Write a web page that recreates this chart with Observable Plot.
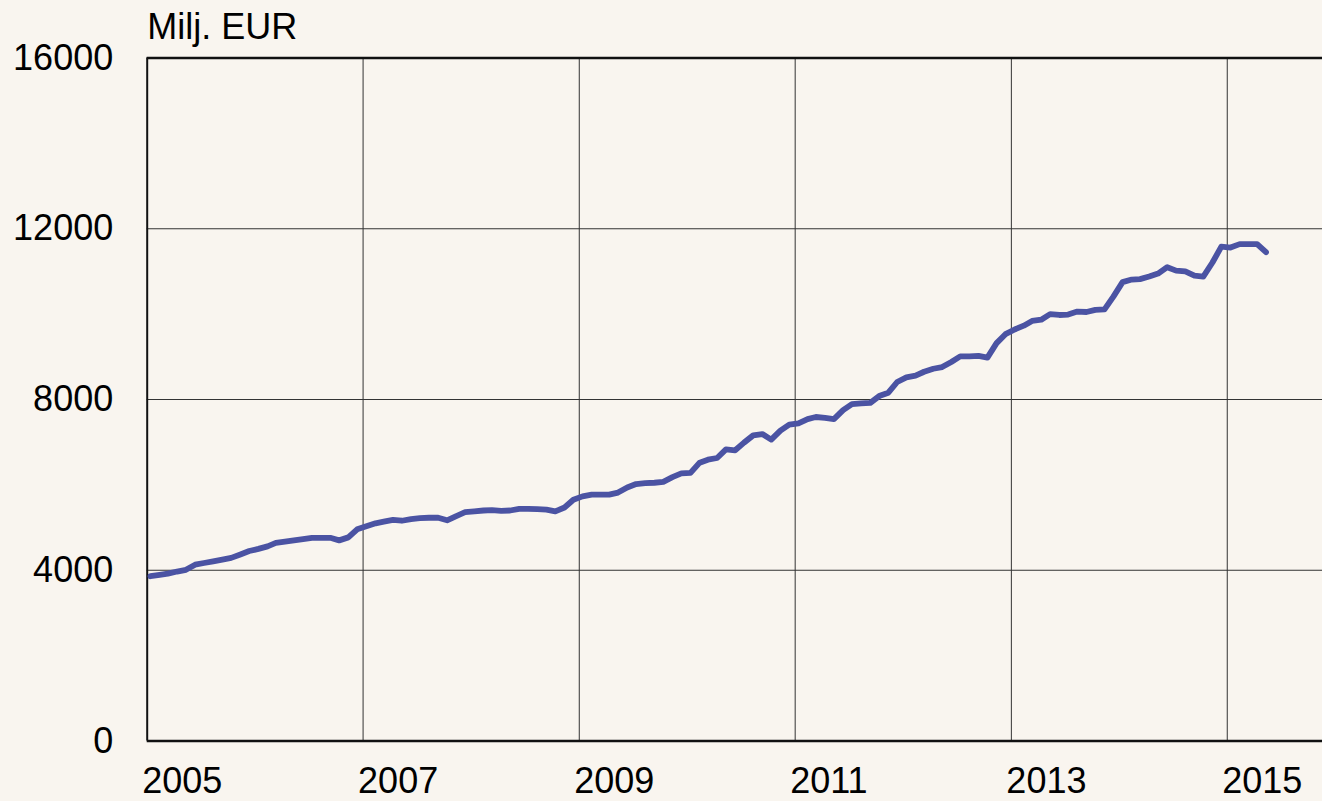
<!DOCTYPE html>
<html>
<head>
<meta charset="utf-8">
<script src="https://cdn.jsdelivr.net/npm/d3@7"></script>
<script src="https://cdn.jsdelivr.net/npm/@observablehq/plot@0.6"></script>
<style>
  html, body { margin: 0; padding: 0; background: #f9f5ef; overflow: hidden; }
  #chart svg { display: block; }
</style>
</head>
<body>
<div id="chart"></div>
<script>
// Monthly values (Milj. EUR), January–December of each year
const years = [2005, 2006, 2007, 2008, 2009, 2010, 2011, 2012, 2013, 2014, 2015];
const v2005 = [3860, 3890, 3920, 3970, 4010, 4130, 4170, 4210, 4250, 4290, 4370, 4450];
const v2006 = [4500, 4560, 4640, 4670, 4700, 4730, 4760, 4760, 4760, 4700, 4770, 4960];
const v2007 = [5030, 5100, 5140, 5180, 5160, 5200, 5220, 5230, 5230, 5170, 5270, 5360];
const v2008 = [5380, 5400, 5410, 5390, 5400, 5440, 5440, 5430, 5420, 5380, 5470, 5650];
const v2009 = [5730, 5770, 5770, 5770, 5820, 5940, 6020, 6040, 6050, 6070, 6180, 6270];
const v2010 = [6280, 6520, 6590, 6630, 6830, 6810, 6990, 7160, 7190, 7060, 7270, 7410];
const v2011 = [7440, 7540, 7590, 7570, 7540, 7750, 7890, 7910, 7920, 8080, 8160, 8410];
const v2012 = [8520, 8560, 8650, 8720, 8760, 8880, 9010, 9010, 9020, 8980, 9320, 9530];
const v2013 = [9640, 9730, 9840, 9870, 10000, 9980, 9990, 10060, 10050, 10100, 10110, 10410];
const v2014 = [10750, 10810, 10820, 10880, 10950, 11100, 11020, 11000, 10900, 10880, 11210, 11580];
const v2015 = [11560, 11640, 11640, 11640, 11450];
const yTicks = [0, 4000, 8000, 12000, 16000];
const xTickYears = [2005, 2007, 2009, 2011, 2013, 2015];
const yLabel = "Milj. EUR";

const seriesByYear = [v2005, v2006, v2007, v2008, v2009, v2010, v2011, v2012, v2013, v2014, v2015];
const data = [];
years.forEach((yr, i) => {
  seriesByYear[i].forEach((v, m) => {
    data.push({date: new Date(Date.UTC(yr, m, 12)), value: v});
  });
});
const yd = y => new Date(Date.UTC(y, 0, 1));
const xTicks = xTickYears.map(yd);

const chart = Plot.plot({
  width: 1322,
  height: 801,
  marginLeft: 146.7,
  marginRight: 0,
  marginTop: 57.5,
  marginBottom: 60.5,
  style: {
    background: "#f9f5ef",
    fontFamily: "'Liberation Sans', Arial, sans-serif",
    fontSize: "36px",
    color: "#000"
  },
  x: {type: "utc", domain: [yd(2005), yd(2016)], range: [146.7, 1334.7]},
  y: {domain: [0, 16000], range: [740.5, 57.5]},
  marks: [
    Plot.gridY([4000, 8000, 12000], {stroke: "#333", strokeOpacity: 1, strokeWidth: 1}),
    Plot.gridX(xTicks.slice(1), {stroke: "#333", strokeOpacity: 1, strokeWidth: 1}),
    Plot.ruleY([16000], {stroke: "#111", strokeWidth: 2.3}),
    Plot.ruleY([0], {stroke: "#111", strokeWidth: 2.5}),
    Plot.ruleX([yd(2005)], {stroke: "#111", strokeWidth: 2}),
    Plot.axisY({ticks: yTicks, tickSize: 0, tickPadding: 34, label: null, tickFormat: d => String(d), fill: "#000"}),
    Plot.axisX({ticks: xTicks, tickSize: 0, tickPadding: 26, label: null, tickFormat: d3.utcFormat("%Y"), textAnchor: "start", dx: -5, fill: "#000"}),
    Plot.lineY(data, {x: "date", y: "value", stroke: "#4b53a3", strokeWidth: 5.8, strokeLinejoin: "round", strokeLinecap: "round"}),
    Plot.text([yLabel], {frameAnchor: "top-left", textAnchor: "start", lineAnchor: "bottom", dy: -19.5, fill: "#000"})
  ]
});
document.getElementById("chart").appendChild(chart);
</script>
</body>
</html>
